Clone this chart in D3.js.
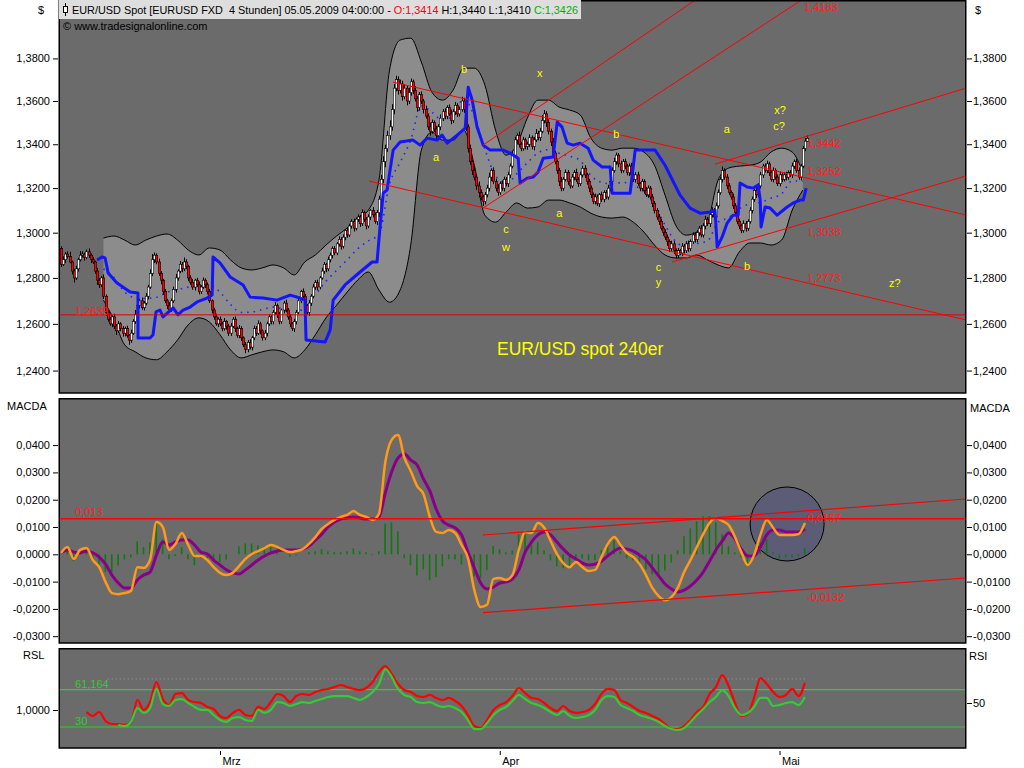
<!DOCTYPE html>
<html><head><meta charset="utf-8">
<script src="https://cdn.jsdelivr.net/npm/d3@7/dist/d3.min.js"></script>
<style>
html,body{margin:0;padding:0;background:#fff;}
svg{display:block;}
text{font-family:"Liberation Sans",Arial,sans-serif;}
</style></head><body>
<svg id="chart" width="1024" height="768"></svg>
<script>
// ---------------- DATA ----------------
// 4h candles, prices x 10000 (1,2860 -> 12860)
const firstOpen = 12930;
const closeX1e4 = [
12860,12880,12905,12895,12870,12830,12800,12840,12880,12900,
12905,12890,12915,12900,12880,12870,12830,12790,12770,12800,
12720,12650,12620,12600,12630,12590,12570,12600,12580,12560,
12580,12550,12530,12560,12610,12640,12680,12700,12670,12690,
12720,12760,12820,12880,12900,12870,12820,12790,12740,12700,
12680,12660,12700,12750,12800,12830,12860,12840,12870,12850,
12800,12780,12760,12790,12770,12740,12760,12790,12770,12740,
12700,12660,12630,12600,12620,12600,12580,12610,12590,12560,
12590,12620,12580,12550,12580,12540,12510,12490,12520,12500,
12540,12580,12560,12600,12570,12540,12560,12600,12630,12610,
12650,12680,12640,12610,12660,12690,12660,12630,12600,12580,
12610,12650,12700,12740,12720,12680,12650,12690,12720,12760,
12780,12760,12800,12830,12860,12840,12880,12900,12930,12910,
12950,12970,12940,12980,13010,12990,13030,13050,13020,13060,
13070,13040,13090,13060,13030,13070,13100,13080,13050,13090,
13150,13240,13320,13380,13440,13480,13560,13660,13700,13650,
13680,13620,13660,13600,13640,13690,13650,13610,13570,13630,
13600,13560,13530,13480,13460,13500,13470,13440,13480,13520,
13550,13530,13570,13540,13510,13550,13580,13540,13560,13600,
13560,13480,13380,13320,13280,13250,13210,13180,13160,13140,
13170,13200,13250,13280,13230,13200,13180,13220,13200,13240,
13220,13260,13300,13350,13420,13440,13400,13380,13420,13390,
13400,13430,13390,13420,13450,13430,13460,13510,13540,13500,
13460,13410,13360,13320,13280,13230,13200,13240,13270,13230,
13210,13250,13270,13240,13220,13260,13290,13260,13230,13200,
13170,13140,13160,13130,13170,13150,13180,13160,13200,13230,
13280,13320,13350,13310,13280,13320,13300,13270,13300,13260,
13240,13260,13220,13200,13230,13190,13170,13200,13160,13130,
13100,13070,13050,13020,13000,12980,12960,12930,12950,12920,
12900,12920,12910,12940,12920,12950,12930,12960,12990,12970,
13000,13020,12990,13030,13060,13040,13080,13100,13070,13120,
13180,13240,13280,13250,13210,13180,13160,13120,13090,13050,
13030,13010,13040,13020,13050,13100,13150,13190,13170,13210,
13260,13300,13280,13310,13270,13240,13280,13250,13220,13260,
13240,13260,13250,13270,13260,13300,13320,13280,13250,13300,13380,13414,13426];
// upper / lower wick length (pips)
const wickHi = [
10,15,8,12,20,6,10,14,9,18, 12,7,10,15,8,11,6,14,10,9, 15,8,12,10,6,14,9,12,7,10, 8,12,6,15,10,20,12,8,14,9,
14,10,18,25,12,8,15,10,6,12, 9,14,10,12,18,8,15,10,20,12, 8,12,15,6,10,14,9,12,8,10, 12,6,10,14,8,12,9,15,6,10,
14,9,12,8,15,10,6,12,10,14, 8,12,10,15,9,6,14,10,12,8, 10,14,8,12,6,10,15,9,12,8, 12,10,15,8,14,10,6,12,9,14,
10,12,8,15,10,6,14,12,9,10, 8,14,10,12,6,15,10,9,12,8, 12,10,14,8,10,12,6,15,10,12, 15,20,25,18,22,30,25,20,18,15,
20,15,18,12,22,15,10,20,14,12, 15,10,18,12,20,14,10,15,12,18, 12,16,10,14,20,12,15,10,14,20, 15,20,12,18,10,15,12,20,14,10,
12,15,20,10,14,12,18,10,15,12, 10,14,12,20,15,10,18,12,14,10, 12,15,10,14,20,12,15,25,18,12, 15,12,18,10,14,12,20,10,15,12,
10,14,12,18,10,15,12,14,10,12, 12,10,15,12,8,14,10,12,15,10, 14,18,12,10,15,12,14,10,12,15, 10,12,14,8,12,10,15,12,10,14,
12,10,14,12,10,15,12,10,14,12, 10,12,8,14,10,12,15,10,12,8, 12,10,14,12,15,10,12,14,10,15, 14,12,18,10,14,12,10,15,12,10,
12,10,15,12,10,14,12,18,10,12, 14,10,12,15,10,12,14,10,12,15, 10,12,14,10,12,15,10,12,14,10,12,15,14];
const wickLo = [
12,8,14,10,6,15,20,9,12,8, 10,14,8,12,15,9,12,20,14,10, 12,15,10,8,14,12,18,10,12,15, 14,10,20,12,8,10,12,14,9,12,
10,14,8,12,15,10,12,18,14,10, 16,12,8,10,14,12,9,15,10,12, 14,10,12,15,9,12,10,8,14,12, 10,15,12,8,14,10,12,9,15,12,
12,8,15,10,12,14,10,16,12,10, 14,10,12,8,15,12,10,14,9,12, 12,10,14,12,9,15,10,12,14,10, 15,12,8,10,14,12,10,15,12,9,
12,14,10,8,12,15,10,12,14,10, 10,12,15,10,14,12,9,12,15,10, 12,14,10,12,15,10,14,12,10,15, 20,15,18,25,15,20,18,22,15,20,
15,18,12,20,14,15,18,12,20,15, 14,18,12,15,20,12,14,18,10,15, 12,15,14,10,18,12,15,14,12,10, 15,20,18,14,20,15,18,22,15,20,
14,12,15,18,12,15,14,10,12,15, 12,15,14,10,12,18,15,12,10,14, 15,12,14,18,10,12,15,10,14,20, 15,18,14,12,15,20,14,12,10,15,
12,10,15,12,14,10,12,15,14,18, 15,12,14,10,15,12,14,10,12,15, 12,10,14,15,12,10,14,12,15,10, 12,15,10,14,12,15,10,14,12,15,
14,12,15,10,14,12,18,15,12,14, 15,12,10,14,12,10,15,12,10,14, 12,14,10,12,15,10,14,12,10,12, 12,10,14,12,15,10,12,14,15,12,
14,12,10,15,12,10,14,12,15,10, 12,14,10,12,15,10,14,12,10,12, 12,10,15,12,10,14,12,10,12,15,10,12,4];

// Bollinger bands, every 5 bars from bar 20 (x 10000)
const bandStart = 20, bandStep = 5;
const bandUpper = [12976,12985,12967,12945,12967,12985,12994,12967,12923,12901,12932,12923,12879,12844,12835,12844,12857,12844,12813,12870,
12901,12945,12985,13021,13065,13101,13236,13745,13887,13896,13783,13641,13604,13651,13754,13754,13674,13465,13350,13396,
13520,13604,13604,13572,13558,13535,13428,13382,13373,13382,13382,13364,13304,13168,13034,12989,13003,13047,13236,13291,
13300,13304,13318,13364,13382,13364,13273];
const bandLower = [12703,12617,12510,12480,12454,12446,12480,12531,12596,12626,12608,12553,12488,12454,12467,12480,12488,12480,12454,12488,
12553,12626,12681,12738,12791,12826,12747,12694,12747,12945,13373,13456,13419,13419,13465,13304,13078,13047,13092,13133,
13110,13115,13146,13146,13133,13115,13087,13070,13065,13070,13047,13003,12945,12901,12888,12888,12901,12879,12857,12844,
12914,12954,12954,12945,12967,13101,13191];

// blue trailing line: bar position and price
const blueIdx = [17.0,19.3,20.8,22.2,26.4,32.6,36.3,36.3,42.0,43.4,44.8,46.7,48.1,52.9,55.2,57.6,60.9,64.2,68.9,71.3,71.7,75.0,79.8,85.9,89.2,95.3,101.9,108.1,112.8,115.1,115.6,124.6,127.0,128.4,134.0,141.1,146.8,149.1,150.5,152.0,153.8,156.7,160.0,166.1,169.4,172.7,177.4,179.8,182.2,186.9,190.7,192.1,194.0,196.3,199.2,202.5,208.6,211.9,215.7,216.6,219.9,222.7,225.1,227.5,232.2,234.1,236.4,238.8,241.6,244.9,248.7,251.1,255.3,259.1,260.0,268.5,270.9,280.3,285.0,292.1,296.8,301.5,306.3,308.6,309.6,311.9,314.3,317.1,319.5,320.4,323.7,326.6,328.9,329.9,330.3,332.2,334.6,337.9,342.6,345.5,348.8,350.2,351.6];
const blueVal = [1.2879,1.2892,1.2888,1.2822,1.2778,1.2738,1.2734,1.2539,1.2539,1.2553,1.2652,1.2660,1.2630,1.2669,1.2639,1.2660,1.2673,1.2695,1.2712,1.2725,1.2892,1.2866,1.2804,1.2769,1.2716,1.2712,1.2703,1.2725,1.2712,1.2703,1.2531,1.2522,1.2574,1.2703,1.2769,1.2826,1.2870,1.2870,1.3025,1.3177,1.3191,1.3373,1.3410,1.3419,1.3396,1.3428,1.3419,1.3442,1.3405,1.3442,1.3474,1.3664,1.3604,1.3479,1.3396,1.3373,1.3373,1.3359,1.3336,1.3223,1.3245,1.3250,1.3273,1.3336,1.3341,1.3502,1.3479,1.3405,1.3396,1.3405,1.3382,1.3327,1.3296,1.3296,1.3177,1.3177,1.3373,1.3373,1.3304,1.3168,1.3110,1.3087,1.3092,1.3101,1.2936,1.2980,1.3043,1.3078,1.3078,1.3223,1.3205,1.3200,1.3214,1.3146,1.3025,1.3115,1.3110,1.3078,1.3115,1.3133,1.3146,1.3146,1.3200];

// MACD and signal, every 3 bars from bar 0 (x 10000)
const macdStep = 3;
const macdLine = [5,27,-17,16,23,-21,-47,-101,-142,-146, -142,-134,-47,-50,-21,118,100,16,38,78,
34,-6,-6,-21,-47,-68,-76,-68,-43,-17, 1,12,23,34,27,16,8,12,19,38,
63,93,111,126,137,144,159,144,137,126, 148,338,419,437,353,305,250,221,137,82,
78,89,78,34,-14,-131,-193,-185,-90,-87, -94,-76,16,82,78,115,97,49,1,-32,
-47,-28,-47,-61,-57,-10,38,63,34,5, -10,-36,-76,-123,-153,-168,-157,-123,-65,-21,
27,74,115,133,122,107,63,8,-39,-3, 71,126,97,71,71,71,74,115];
const signalLine = [5,16,8,5,12,5,-10,-36,-76,-105, -123,-123,-94,-76,-65,-3,45,34,45,52,
52,34,8,1,-21,-39,-57,-68,-72,-57, -39,-21,-6,5,12,16,16,16,19,30,
52,74,100,118,129,133,137,133,129,129, 137,225,302,353,367,345,327,276,232,166,
122,107,97,71,8,-50,-105,-127,-120,-105, -101,-90,-57,8,45,71,82,71,45,19,
-3,-17,-32,-39,-36,-25,-6,12,23,19, 12,-3,-21,-50,-79,-109,-127,-138,-131,-116,
-94,-65,-25,16,49,78,56,19,-6,-6, 27,71,89,89,82,82,82,93];

// RSL (red) and RSI (green), every 3 bars
const rsStep = 3;
const redStart = 12;
const redLine = [42.5,39.2,42.5,35.0,32.5,32.5,31.7,33.3,52.5,44.2, 50.8,67.5,53.3,48.3,57.5,58.3,52.5,50.8,50,46.7,
45.0,39.2,37.5,41.7,44.2,40.0,39.2,46.7,45.0,50.8, 57.5,55.8,50.8,55.8,57.5,56.7,59.2,60.8,61.7,63.3,
65.0,63.3,61.7,60.8,62.5,67.5,75.8,80.8,74.2,65.8, 60.8,59.2,55.8,55.0,56.7,54.2,52.5,54.2,51.7,47.5,
40.0,30.8,29.2,35.8,44.2,48.3,50.8,55.8,62.5,58.3, 54.2,53.3,50,45.8,43.3,47.5,43.3,41.7,42.5,44.2,
49.2,57.5,61.7,60.8,52.5,50,46.7,43.3,41.7,39.2, 36.7,32.5,28.3,28.3,30.8,35.8,42.5,46.7,57.5,63.3,
73.3,64.2,50,39.2,40.8,54.2,70.8,65.8,59.2,55, 56.7,61.7,55.8,66.7];
const greenStart = 27;
const greenLine = [31.7,30.8,34.2,45.8,41.7,45.8,61.7,49.2,47.5,52.5, 53.3,50,46.7,44.2,44.2,40,35.8,34.2,37.5,38.3,
35.8,35,44.2,41.7,44.2,50.8,50,47.5,49.2,50.8, 50,51.7,53.3,55,55.8,55.8,55.8,54.2,52.5,55,
59.2,65.8,78.3,71.7,61.7,56.7,55,50.8,50,50.8, 48.3,46.7,47.5,45.8,42.5,35.8,28.3,28.3,33.3,40,
44.2,46.7,51.7,56.7,53.3,50,48.3,45.8,42.5,40, 43.3,39.2,37.5,38.3,40,44.2,52.5,55.8,55,48.3,
45.8,43.3,40,38.3,36.7,34.2,30.8,28.3,27.5,29.2, 34.2,40,45,50.8,55,60.8,55.8,45.8,40,41.7,
46.7,54.2,54.2,47.5,48.3,50,50.8,48.3,55];

// axis ticks
const priceTicks = [1.24,1.26,1.28,1.30,1.32,1.34,1.36,1.38];
const macdTicks = [-0.03,-0.02,-0.01,0,0.01,0.02,0.03,0.04];
const rslTicks = [1.0];
const rsiTicks = [50];
const monthLabels = ["Mrz","Apr","Mai"];
const monthIdx = [75,207,339];

// drawn lines (bar, value)
const priceLevel = 1.2639;
const trendLines = [
  [[156.6,1.3688],[427,1.3079]],
  [[145.3,1.3232],[427,1.2617]],
  [[199.1,1.3110],[427,1.4607]],
  [[199.1,1.3396],[427,1.5000]],
  [[288.3,1.2870],[427,1.3255]],
  [[308.6,1.3309],[427,1.3660]]
];
const macdLevel = 0.013;
const macdTrend = [
  [[199.1,0.00707],[427,0.02026]],
  [[199.1,-0.02136],[427,-0.00868]]
];
const circleIdx = 342.6, circleVal = 0.0111;
const rsiLevels = [61.164, 30];
const rsiDotted = 70;

// annotations
const waveText = ["b","x","a","b","a","x?","c?","c","w","a","c","y","b","z?"];
const waveIdx = [188.7,224.6,175.5,260.5,312.7,336.5,336.0,208.6,208.1,233.6,280.6,280.6,322.3,390.7];
const wavePrice = [1.3731,1.3712,1.3323,1.3428,1.3451,1.3539,1.3465,1.2998,1.2918,1.3070,1.2830,1.2764,1.2835,1.2760];
const levelText = ["1,4183","1,3442","1,3252","1,3038","1,2773","1,2639"];
const levelIdx = [350.6,352.0,352.0,352.0,352.0,6.6];
const levelPrice = [1.4028,1.3387,1.3259,1.2985,1.2782,1.2638];
const macdText = ["0,013","0,0157","-0,0132"];
const macdTextIdx = [6.6,352.0,352.0];
const macdTextVal = [0.0140,0.0118,-0.0171];
const rsiText = ["61,164","30"];
const rsiTextIdx = [6.6,6.6];
const rsiTextVal = [62.5,31.7];

// ---------------- CHART ----------------
const svg = d3.select("#chart");
const BG = "#6b6b6b", BANDFILL = "#8c8c8c";
const X0 = 60, X1 = 966;
const PT = 0, PB = 393, MT = 398, MB = 643, RT = 648, RB = 748;

const x = d3.scaleLinear().domain([-0.5, 427]).range([X0, X1]);
const yP = d3.scaleLog().domain([1.2305, 1.4079]).range([PB, PT]);
const yM = d3.scaleLinear().domain([-0.03249, 0.05725]).range([MB, MT]);
const yR = d3.scaleLinear().domain([12.5, 95.83]).range([RB, RT]);
const yRSL = d3.scaleLinear().domain([0.962, 1.062]).range([RB, RT]);

const defs = svg.append("defs");
function mkClip(id, t, b){
  defs.append("clipPath").attr("id", id).append("rect")
    .attr("x", X0).attr("y", t).attr("width", X1 - X0).attr("height", b - t);
  return "url(#" + id + ")";
}
const gP = svg.append("g").attr("clip-path", mkClip("cp", PT, PB));
const gM = svg.append("g").attr("clip-path", mkClip("cm", MT, MB));
const gR = svg.append("g").attr("clip-path", mkClip("cr", RT, RB));

[[gP,PT,PB],[gM,MT,MB],[gR,RT,RB]].forEach(([g,t,b]) =>
  g.append("rect").attr("x", X0).attr("y", t).attr("width", X1 - X0).attr("height", b - t).attr("fill", BG));

// ---- price panel ----
const bands = bandUpper.map((u, k) => ({i: bandStart + k * bandStep, up: u / 1e4, lo: bandLower[k] / 1e4}));
gP.append("path").datum(bands)
  .attr("d", d3.area().x(d => x(d.i)).y0(d => yP(d.lo)).y1(d => yP(d.up)).curve(d3.curveMonotoneX))
  .attr("fill", BANDFILL);
["up","lo"].forEach(k => gP.append("path").datum(bands)
  .attr("d", d3.line().x(d => x(d.i)).y(d => yP(d[k])).curve(d3.curveMonotoneX))
  .attr("fill", "none").attr("stroke", "#000").attr("stroke-width", 1));
gP.append("path").datum(bands)
  .attr("d", d3.line().x(d => x(d.i)).y(d => yP((d.up + d.lo) / 2)).curve(d3.curveMonotoneX))
  .attr("fill", "none").attr("stroke", "#1f1fff").attr("stroke-width", 1.6).attr("stroke-dasharray", "1.5,5");

const candles = closeX1e4.map((c, i) => {
  const o = i ? closeX1e4[i - 1] : firstOpen;
  return {i, o: o / 1e4, c: c / 1e4, h: (Math.max(o, c) + wickHi[i]) / 1e4, l: (Math.min(o, c) - wickLo[i]) / 1e4};
});
const gc = gP.append("g");
gc.selectAll("line").data(candles).join("line")
  .attr("x1", d => Math.round(x(d.i)) + 0.5).attr("x2", d => Math.round(x(d.i)) + 0.5)
  .attr("y1", d => yP(d.h)).attr("y2", d => yP(d.l))
  .attr("stroke", "#000").attr("stroke-width", 1);
gc.selectAll("rect").data(candles).join("rect")
  .attr("x", d => Math.round(x(d.i)) - 0.7).attr("width", 2.4)
  .attr("y", d => yP(Math.max(d.o, d.c)))
  .attr("height", d => Math.max(1, yP(Math.min(d.o, d.c)) - yP(Math.max(d.o, d.c))))
  .attr("fill", d => d.c >= d.o ? "#ffffff" : "#ff0000")
  .attr("stroke", "#000").attr("stroke-width", 0.6);

const blue = blueIdx.map((i, k) => [i, blueVal[k]]);
gP.append("path").datum(blue)
  .attr("d", d3.line().x(d => x(d[0])).y(d => yP(d[1])))
  .attr("fill", "none").attr("stroke", "#1414ff").attr("stroke-width", 3).attr("stroke-linejoin", "round");

gP.append("line").attr("x1", X0).attr("x2", X1).attr("y1", yP(priceLevel)).attr("y2", yP(priceLevel))
  .attr("stroke", "#e00000").attr("stroke-width", 1);
trendLines.forEach(l => gP.append("line")
  .attr("x1", x(l[0][0])).attr("y1", yP(l[0][1])).attr("x2", x(l[1][0])).attr("y2", yP(l[1][1]))
  .attr("stroke", "#ff0000").attr("stroke-width", 1));

waveText.forEach((t, k) => gP.append("text").attr("x", x(waveIdx[k])).attr("y", yP(wavePrice[k]))
  .attr("fill", "#ffff00").attr("font-size", "11px").text(t));
levelText.forEach((t, k) => gP.append("text").attr("x", x(levelIdx[k])).attr("y", yP(levelPrice[k]))
  .attr("fill", "#ff2020").attr("font-size", "11px").text(t));
gP.append("text").attr("x", x(205.7)).attr("y", yP(1.2466)).attr("fill", "#ffff00")
  .attr("font-size", "17.5px").text("EUR/USD spot 240er");

// ---- MACD panel ----
gM.append("circle").attr("cx", x(circleIdx)).attr("cy", yM(circleVal)).attr("r", 37)
  .attr("fill", "rgba(55,55,150,0.28)").attr("stroke", "#000").attr("stroke-width", 1);
const macd = macdLine.map((m, k) => ({i: k * macdStep, m: m / 1e4, s: signalLine[k] / 1e4}));
gM.selectAll("rect.h").data(macd).join("rect").attr("class", "h")
  .attr("x", d => x(d.i) - 1).attr("width", 1.6)
  .attr("y", d => Math.min(yM(0), yM(d.m - d.s)))
  .attr("height", d => Math.abs(yM(d.m - d.s) - yM(0)))
  .attr("fill", "#0f7a0f");
gM.append("path").datum(macd).attr("d", d3.line().x(d => x(d.i)).y(d => yM(d.s)).curve(d3.curveMonotoneX))
  .attr("fill", "none").attr("stroke", "#880088").attr("stroke-width", 3);
gM.append("path").datum(macd).attr("d", d3.line().x(d => x(d.i)).y(d => yM(d.m)).curve(d3.curveMonotoneX))
  .attr("fill", "none").attr("stroke", "#ff9a1a").attr("stroke-width", 2.5);
gM.append("line").attr("x1", X0).attr("x2", X1).attr("y1", yM(macdLevel)).attr("y2", yM(macdLevel))
  .attr("stroke", "#ff0000").attr("stroke-width", 1.5);
macdTrend.forEach(l => gM.append("line")
  .attr("x1", x(l[0][0])).attr("y1", yM(l[0][1])).attr("x2", x(l[1][0])).attr("y2", yM(l[1][1]))
  .attr("stroke", "#ff0000").attr("stroke-width", 1.2));
macdText.forEach((t, k) => gM.append("text").attr("x", x(macdTextIdx[k])).attr("y", yM(macdTextVal[k]))
  .attr("fill", "#ff2020").attr("font-size", "11px").text(t));

// ---- RSI panel ----
gR.append("line").attr("x1", x(22)).attr("x2", x(352)).attr("y1", yR(rsiDotted)).attr("y2", yR(rsiDotted))
  .attr("stroke", "#a0a0a0").attr("stroke-width", 1).attr("stroke-dasharray", "1,3");
rsiLevels.forEach(v => gR.append("line").attr("x1", X0).attr("x2", X1).attr("y1", yR(v)).attr("y2", yR(v))
  .attr("stroke", "#33cc33").attr("stroke-width", 1.2));
const redPts = redLine.map((v, k) => [redStart + k * rsStep, v]);
const greenPts = greenLine.map((v, k) => [greenStart + k * rsStep, v]);
gR.append("path").datum(redPts).attr("d", d3.line().x(d => x(d[0])).y(d => yR(d[1])).curve(d3.curveMonotoneX))
  .attr("fill", "none").attr("stroke", "#ff0000").attr("stroke-width", 2.2);
gR.append("path").datum(greenPts).attr("d", d3.line().x(d => x(d[0])).y(d => yR(d[1])).curve(d3.curveMonotoneX))
  .attr("fill", "none").attr("stroke", "#33cc33").attr("stroke-width", 2.2);
rsiText.forEach((t, k) => gR.append("text").attr("x", x(rsiTextIdx[k])).attr("y", yR(rsiTextVal[k]))
  .attr("fill", "#33cc33").attr("font-size", "11px").text(t));

// ---- frames ----
[[PT,PB],[MT,MB],[RT,RB]].forEach(([t,b]) => svg.append("rect")
  .attr("x", 59.25).attr("y", t + 0.75).attr("width", 906.5).attr("height", b - t - 0.75)
  .attr("fill", "none").attr("stroke", "#000").attr("stroke-width", 1.5));

// ---- axes ----
const fmt4 = v => d3.format(".4f")(v).replace(".", ",").replace("\u2212", "-");
function styleAxis(g){
  g.select(".domain").remove();
  g.selectAll("text").attr("font-size", "11px").attr("font-family", '"Liberation Sans", Arial, sans-serif').attr("fill", "#000");
  g.selectAll("line").attr("stroke", "#000");
}
svg.append("g").attr("transform", "translate(58,0)")
  .call(d3.axisLeft(yP).tickValues(priceTicks).tickFormat(fmt4).tickSize(5).tickPadding(3)).call(styleAxis);
svg.append("g").attr("transform", "translate(967,0)")
  .call(d3.axisRight(yP).tickValues(priceTicks).tickFormat(fmt4).tickSize(5).tickPadding(1)).call(styleAxis);
svg.append("g").attr("transform", "translate(58,0)")
  .call(d3.axisLeft(yM).tickValues(macdTicks).tickFormat(fmt4).tickSize(5).tickPadding(3)).call(styleAxis);
svg.append("g").attr("transform", "translate(967,0)")
  .call(d3.axisRight(yM).tickValues(macdTicks).tickFormat(fmt4).tickSize(5).tickPadding(1)).call(styleAxis);
svg.append("g").attr("transform", "translate(58,0)")
  .call(d3.axisLeft(yRSL).tickValues(rslTicks).tickFormat(fmt4).tickSize(5).tickPadding(3)).call(styleAxis);
svg.append("g").attr("transform", "translate(967,0)")
  .call(d3.axisRight(yR).tickValues(rsiTicks).tickFormat(d3.format("d")).tickSize(5).tickPadding(1)).call(styleAxis);
const gx = svg.append("g").attr("transform", "translate(0,751)")
  .call(d3.axisBottom(x).tickValues(monthIdx).tickFormat((d, k) => monthLabels[k]).tickSize(4).tickPadding(2)).call(styleAxis);
gx.selectAll("text").attr("text-anchor", "start").attr("x", 2);

// ---- labels ----
const lab = (t, xx, yy, anchor) => svg.append("text").attr("x", xx).attr("y", yy).attr("font-size", "11px")
  .attr("text-anchor", anchor || "start").attr("fill", "#000").text(t);
lab("$", 38, 14); lab("$", 975, 14);
lab("MACDA", 7, 410); lab("MACDA", 970, 412);
lab("RSL", 23, 659); lab("RSI", 969, 660);

// header
svg.append("rect").attr("x", 59).attr("y", 0).attr("width", 522).attr("height", 19).attr("fill", "#dedede");
svg.append("line").attr("x1", 65.5).attr("x2", 65.5).attr("y1", 3).attr("y2", 16).attr("stroke", "#000");
svg.append("rect").attr("x", 63.5).attr("y", 6.5).attr("width", 4).attr("height", 6).attr("fill", "#fff").attr("stroke", "#000");
const ht = svg.append("text").attr("x", 72).attr("y", 14).attr("font-size", "11px").attr("fill", "#000")
  .attr("textLength", 506).attr("lengthAdjust", "spacingAndGlyphs").attr("style", "white-space:pre");
ht.append("tspan").text("EUR/USD Spot [EURUSD FXD  4 Stunden] 05.05.2009 04:00:00 - ");
ht.append("tspan").attr("fill", "#ff0000").text("O:1,3414");
ht.append("tspan").text(" H:1,3440 L:1,3410 ");
ht.append("tspan").attr("fill", "#00b000").text("C:1,3426");
lab("\u00A9 www.tradesignalonline.com", 63, 30);
</script></body></html>
